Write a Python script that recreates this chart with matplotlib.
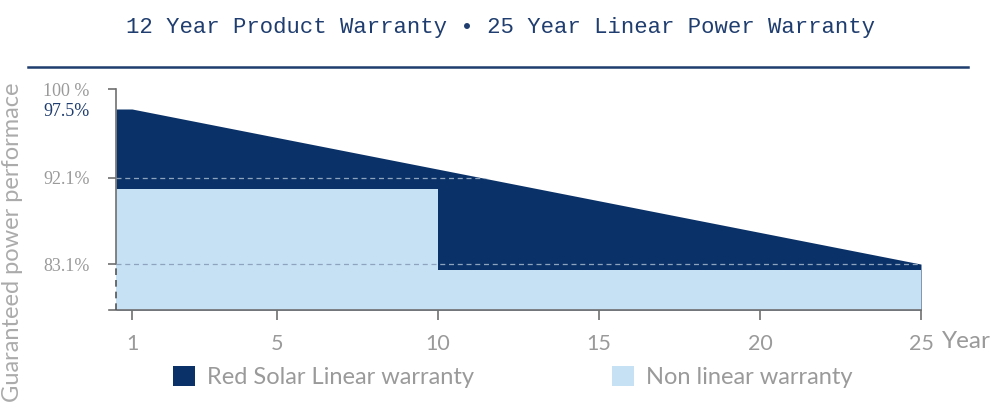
import matplotlib
matplotlib.use("Agg")
import matplotlib.pyplot as plt
from matplotlib.lines import Line2D
from matplotlib.patches import Patch
import numpy as np

# data
years_linear = [0, 1, 25]
linear_warranty = [97.5, 97.5, 83.1]
years_nonlinear = [0, 10, 25]
nonlinear_warranty = [91.0, 82.5, 82.5]
reference_levels = [92.1, 83.1]
x_ticks = [1, 5, 10, 15, 20, 25]
x_tick_labels = ["1", "5", "10", "15", "20", "25"]
y_ticks = [83.1, 92.1, 97.5, 100]
y_tick_labels = ["83.1%", "92.1%", "97.5%", "100 %"]

title = "12 Year Product Warranty \u2022 25 Year Linear Power Warranty"
ylabel = "Guaranteed power performace"
legend_labels = ["Red Solar Linear warranty", "Non linear warranty"]

dark = "#0b3268"
light = "#c6e0f4"
navy_text = "#1f3d6e"
gray = "#9a9a9a"

y_floor = 78.3

# the artwork is not drawn to a linear scale, so use piecewise scales
y_knots = [78.3, 92.1, 97.5, 100]
y_pos = [-310, -178, -109, -89]
x_knots = [-0.45, 0, 1, 5, 25]
x_pos = [109, 116, 132, 277, 921]


def fwd_y(v):
    return np.interp(v, y_knots, y_pos)


def inv_y(p):
    return np.interp(p, y_pos, y_knots)


def fwd_x(v):
    return np.interp(v, x_knots, x_pos)


def inv_x(p):
    return np.interp(p, x_pos, x_knots)


fig = plt.figure(figsize=(10, 4.09), dpi=100)
ax = fig.add_axes([0.109, 1 - 310 / 409, 0.812, 221 / 409])
ax.set_xscale("function", functions=(fwd_x, inv_x))
ax.set_yscale("function", functions=(fwd_y, inv_y))
ax.set_xlim(-0.45, 25)
ax.set_ylim(y_floor, 100)

dark_fill = ax.fill_between(years_linear, linear_warranty, y_floor, color=dark, lw=0, zorder=1)
ax.fill_between(years_nonlinear, nonlinear_warranty, y_floor, step="post", color=light, lw=0, zorder=2)

clip = dark_fill.get_paths()[0]
for lvl in reference_levels:
    ln, = ax.plot([0, 25], [lvl, lvl], ls=(0, (4, 3)), color="#8ea3bd", lw=0.9, zorder=3)
    ln.set_clip_path(clip, ax.transData)

# spines
for s in ["top", "right"]:
    ax.spines[s].set_visible(False)
ax.spines["left"].set_position(("data", 0))
ax.spines["left"].set_bounds(83.1, 100)
ax.spines["left"].set_color("#707070")
ax.spines["left"].set_linewidth(1.2)
ax.spines["bottom"].set_color("#707070")
ax.spines["bottom"].set_linewidth(1.2)
ax.plot([0, 0], [y_floor, 83.1], ls=(0, (4, 3)), color="#555555", lw=1.2, zorder=4, clip_on=False)

ax.set_xticks(x_ticks)
ax.set_xticklabels(x_tick_labels, family="Lato", fontsize=15.5, color=gray)
ax.tick_params(axis="x", direction="out", length=7, width=1.2, color="#707070", pad=10)
ax.set_xticks([], minor=True)
ax.set_yticks(y_ticks)
ax.set_yticklabels(y_tick_labels, family="Liberation Serif", fontsize=13, color="#9a9a9a")
ax.tick_params(axis="y", direction="out", length=6, width=1.2, color="#707070", pad=13)
ax.set_yticks([], minor=True)
for tick, lbl in zip(ax.yaxis.get_major_ticks(), y_tick_labels):
    if lbl == "97.5%":
        tick.tick1line.set_visible(False)
        tick.label1.set_color(navy_text)

ax.annotate("Year", xy=(25, y_floor), xytext=(21, -31), textcoords="offset pixels",
            ha="left", va="center", family="Lato", fontsize=17.5, color=gray)

fig.text(0.5, 1 - 28 / 409, title, ha="center", va="center",
         family="Liberation Mono", fontsize=16, color=navy_text)
fig.add_artist(Line2D([0.028, 0.968], [1 - 67 / 409] * 2, color=navy_text, lw=1.8))

fig.text(0.013, 1 - 242 / 409, ylabel, rotation=90, ha="center", va="center",
         family="Lato", fontsize=17, color="#ababab")

handles = [Patch(facecolor=dark, edgecolor="none"), Patch(facecolor=light, edgecolor="none")]
fig.legend(handles, legend_labels, ncol=2, loc="center left",
           bbox_to_anchor=(173 / 1000, 1 - 377 / 409), frameon=False,
           borderpad=0, borderaxespad=0, handlelength=0.93, handleheight=0.9,
           handletextpad=0.5, columnspacing=5.85,
           prop={"family": "Lato", "size": 17}, labelcolor=gray)

fig.savefig("out.png", dpi=100)
